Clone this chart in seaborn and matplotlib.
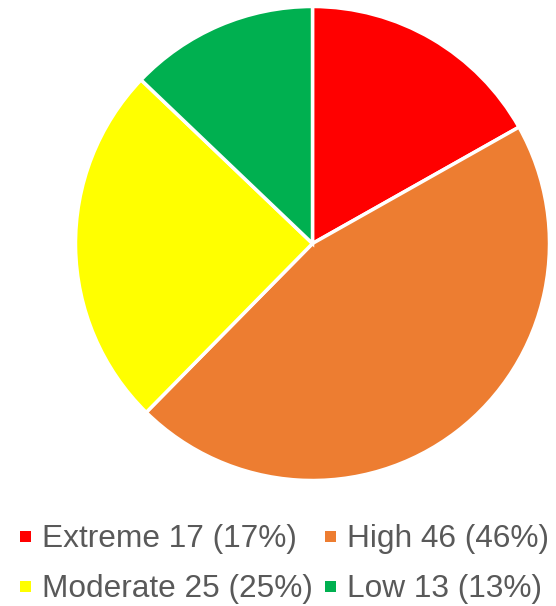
import matplotlib
matplotlib.use("Agg")
import matplotlib.pyplot as plt
import seaborn as sns
from matplotlib.patches import Rectangle

categories = ["Extreme", "High", "Moderate", "Low"]
counts = [17, 46, 25, 13]
percents = [17, 46, 25, 13]
colors = ["#FF0000", "#ED7D31", "#FFFF00", "#00B050"]

sns.set_theme(style="white")
plt.rcParams["font.family"] = ["Liberation Sans", "DejaVu Sans"]

W, H = 556, 606
fig = plt.figure(figsize=(W / 100, H / 100), dpi=100)
fig.patch.set_facecolor("white")

cx, cy, r = 312.5, 243.5, 237
ax = fig.add_axes([(cx - r) / W, (H - cy - r) / H, 2 * r / W, 2 * r / H])
ax.pie(counts, colors=colors, startangle=90, counterclock=False,
       radius=1.0, wedgeprops=dict(edgecolor="white", linewidth=2.5))
ax.set_xlim(-1.0, 1.0)
ax.set_ylim(-1.0, 1.0)
ax.set_aspect("equal")
ax.axis("off")

# two-column legend below the pie
col_x = [20, 325]
row_base = [547, 597]
sq = 11
text_color = "#595959"
for i, (cat, n, p, c) in enumerate(zip(categories, counts, percents, colors)):
    x = col_x[i % 2]
    yb = row_base[i // 2]
    ymid = yb - 11
    fig.patches.append(Rectangle((x / W, (H - ymid - sq / 2) / H), sq / W, sq / H,
                                 transform=fig.transFigure, facecolor=c,
                                 edgecolor="none"))
    fig.text((x + 22) / W, (H - yb) / H, f"{cat} {n} ({p}%)",
             color=text_color, fontsize=22.8, va="baseline", ha="left")

fig.savefig("out.png", dpi=100, facecolor="white")
